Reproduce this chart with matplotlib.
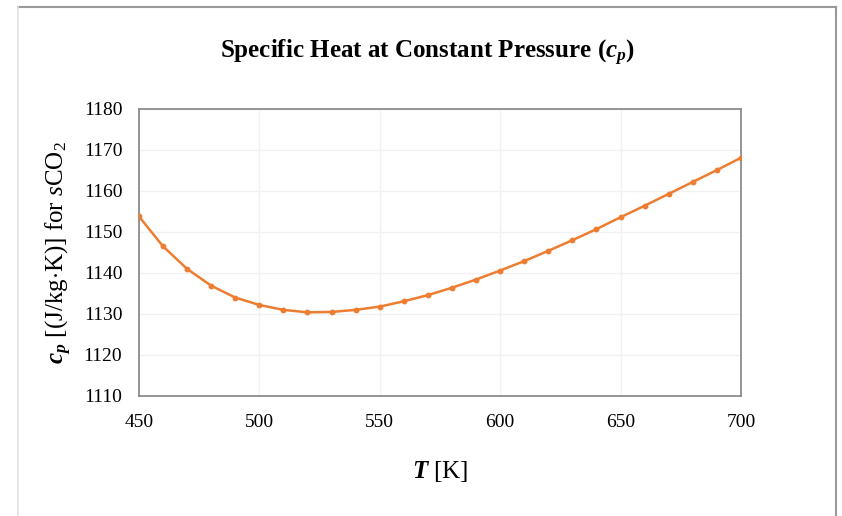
import matplotlib
matplotlib.use('Agg')
import matplotlib.pyplot as plt
from matplotlib.lines import Line2D

plt.rcParams['font.family'] = ['Liberation Serif', 'DejaVu Serif']
plt.rcParams['mathtext.fontset'] = 'custom'
plt.rcParams['mathtext.rm'] = 'Liberation Serif'
plt.rcParams['mathtext.it'] = 'Liberation Serif:italic'
plt.rcParams['mathtext.bf'] = 'Liberation Serif:bold'
plt.rcParams['mathtext.bfit'] = 'Liberation Serif:italic:bold'

# temperature [K] and cp [J/kg K]
temp = [450, 460, 470, 480, 490, 500, 510, 520, 530, 540, 550, 560, 570,
        580, 590, 600, 610, 620, 630, 640, 650, 660, 670, 680, 690, 700]
cp = [1153.8, 1146.5, 1141.0, 1136.9, 1134.0, 1132.2, 1131.0, 1130.4, 1130.5,
      1131.0, 1131.8, 1133.1, 1134.6, 1136.4, 1138.4, 1140.6, 1142.9, 1145.4,
      1148.0, 1150.7, 1153.6, 1156.4, 1159.3, 1162.2, 1165.1, 1168.1]

x_ticks = [450, 500, 550, 600, 650, 700]
y_ticks = [1110, 1120, 1130, 1140, 1150, 1160, 1170, 1180]

fig = plt.figure(figsize=(8.42, 5.16), dpi=100)
ax = fig.add_axes([0.165, 0.2326, 0.715, 0.5562])

ax.plot(temp, cp, color='#ED7D31', lw=1.8, marker='o', ms=3.2, zorder=3)

ax.set_xlim(450, 700)
ax.set_ylim(1110, 1180)
ax.set_xticks(x_ticks)
ax.set_yticks(y_ticks)
ax.grid(True, color='#F1F1F1', lw=1)
ax.set_axisbelow(True)
ax.tick_params(length=0, labelsize=14)
ax.tick_params(axis='x', pad=13)
ax.tick_params(axis='y', pad=12)
for s in ax.spines.values():
    s.set_color('#8C8C8C')
    s.set_linewidth(1.3)

fig.text(0.508, 0.897, r'Specific Heat at Constant Pressure ($\mathbfit{c_p}$)',
         ha='center', va='center', fontsize=18, fontweight='bold')
ax.set_xlabel(r'$\mathbfit{T}$ [K]', fontsize=18, labelpad=20)
ax.set_ylabel(r'$\mathbfit{c_p}$ [(J/kg$\cdot$K)] for $s$CO$_2$', fontsize=18, labelpad=7)

# outer chart frame
fig.add_artist(Line2D([18 / 842, 836 / 842], [1 - 7 / 516, 1 - 7 / 516],
                      transform=fig.transFigure, color='#9A9A9A', lw=1.5))
fig.add_artist(Line2D([18 / 842, 18 / 842], [0, 1 - 7 / 516],
                      transform=fig.transFigure, color='#E0E0E0', lw=1.2))
fig.add_artist(Line2D([836 / 842, 836 / 842], [0, 1 - 7 / 516],
                      transform=fig.transFigure, color='#9A9A9A', lw=1.5))

fig.savefig('out.png', dpi=100)
